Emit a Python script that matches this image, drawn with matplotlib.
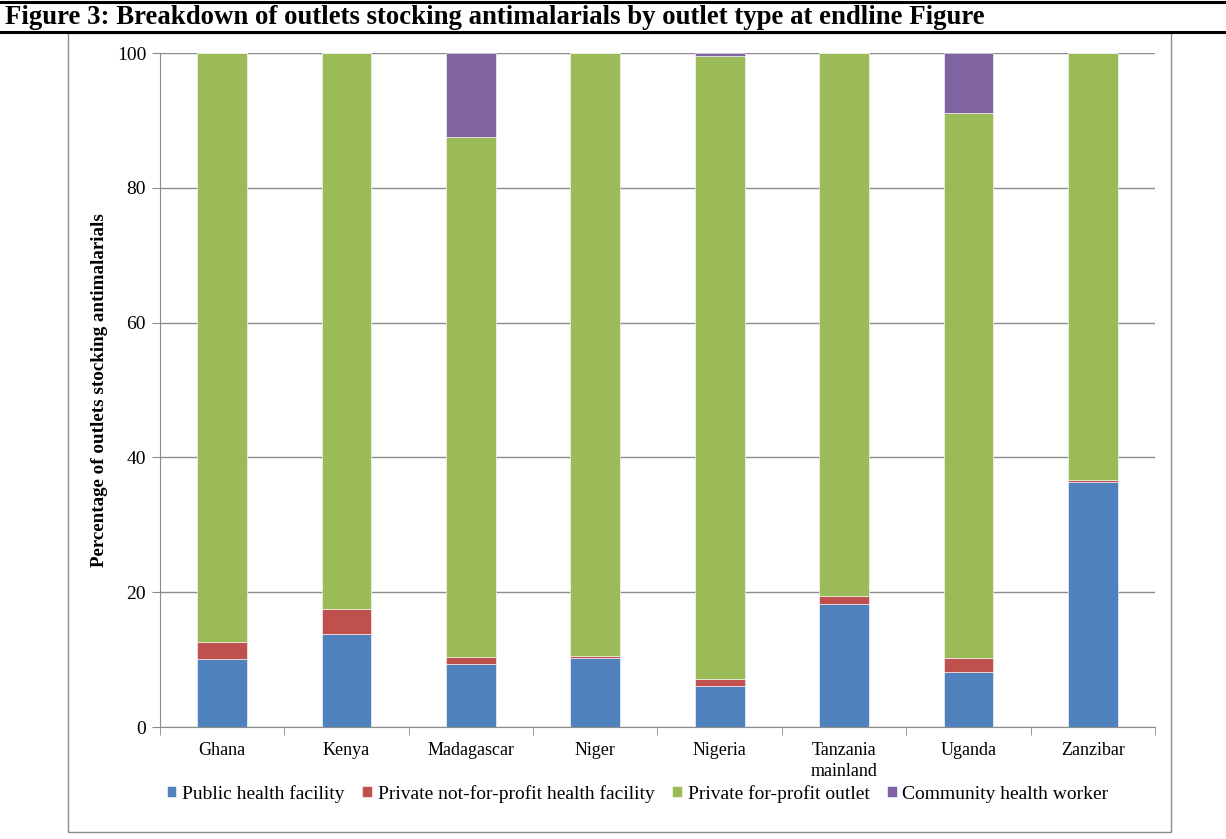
import matplotlib
matplotlib.use("Agg")
from matplotlib import pyplot as plt
from matplotlib.patches import Rectangle
from matplotlib.lines import Line2D
import numpy as np

countries = ['Ghana', 'Kenya', 'Madagascar', 'Niger', 'Nigeria',
             'Tanzania\nmainland', 'Uganda', 'Zanzibar']
public = [10.1, 13.85, 9.3, 10.3, 6.1, 18.3, 8.1, 36.4]
private_nfp = [2.45, 3.6, 1.1, 0.3, 1.0, 1.1, 2.2, 0.3]
community = [0.0, 0.0, 12.4, 0.0, 0.4, 0.0, 8.9, 0.0]
private_fp = [100 - a - b - c for a, b, c in zip(public, private_nfp, community)]

series = [
    ('Public health facility', public, '#4F81BD'),
    ('Private not-for-profit health facility', private_nfp, '#C0504D'),
    ('Private for-profit outlet', private_fp, '#9BBB59'),
    ('Community health worker', community, '#8064A2'),
]

plt.rcParams['font.family'] = ['Liberation Serif', 'DejaVu Serif']

fig = plt.figure(figsize=(12.26, 8.39), dpi=100)
ax = fig.add_axes([160 / 1226, 1 - 727 / 839, (1155 - 160) / 1226, (727 - 53) / 839])

x = np.arange(len(countries))
bottom = np.zeros(len(countries))
for name, vals, color in series:
    ax.bar(x, vals, width=0.4, bottom=bottom, color=color, label=name,
           edgecolor='white', linewidth=0.4, zorder=3)
    bottom += np.array(vals)

ax.set_xlim(-0.5, len(countries) - 0.5)
ax.set_ylim(0, 100)
ax.set_yticks([0, 20, 40, 60, 80, 100])
ax.yaxis.grid(True, color='#8c8c8c', linewidth=1.0, zorder=0)
ax.set_xticks(x)
ax.set_xticklabels(countries, fontsize=13, linespacing=1.3)
ax.set_xticks(np.arange(-0.5, len(countries)), minor=True)
ax.tick_params(axis='x', which='major', length=0, pad=11)
ax.tick_params(axis='x', which='minor', length=6, color='#8c8c8c', direction='out')
ax.tick_params(axis='y', length=6, color='#8c8c8c', labelsize=14, pad=4)
for s in ['top', 'right']:
    ax.spines[s].set_visible(False)
for s in ['left', 'bottom']:
    ax.spines[s].set_color('#8c8c8c')
ax.set_ylabel('Percentage of outlets stocking antimalarials', fontsize=13.7,
              fontweight='bold', labelpad=6)

ax.legend(loc='upper center', bbox_to_anchor=(0.48, -0.06), ncol=4, frameon=False,
          fontsize=14, handlelength=0.5, handleheight=0.5, handletextpad=0.3,
          columnspacing=0.9)

# outer chart frame
fig.patches.append(Rectangle((68 / 1226, 1 - 832 / 839), (1171 - 68) / 1226,
                             (832 - 33) / 839, transform=fig.transFigure,
                             fill=False, edgecolor='#8c8c8c', linewidth=1.0))
# title rules
fig.lines.append(Line2D([0, 1], [1 - 2 / 839, 1 - 2 / 839], transform=fig.transFigure,
                        color='black', linewidth=2.2))
fig.lines.append(Line2D([0, 1], [1 - 32 / 839, 1 - 32 / 839], transform=fig.transFigure,
                        color='black', linewidth=2.2))
fig.text(5 / 1226, 1 - 18 / 839,
         'Figure 3: Breakdown of outlets stocking antimalarials by outlet type at endline Figure',
         fontsize=19.3, fontweight='bold', va='center', ha='left')

fig.savefig('out.png', dpi=100)
